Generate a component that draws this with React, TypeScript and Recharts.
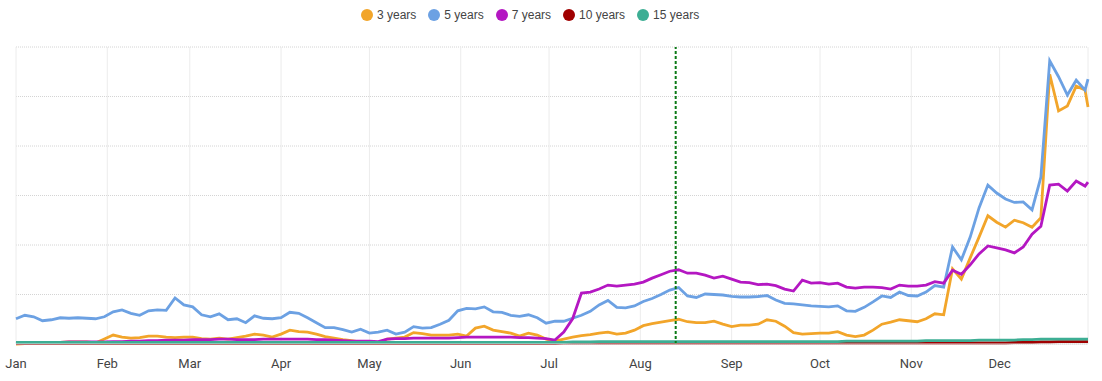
import { CartesianGrid, Legend, Line, LineChart, ReferenceLine, XAxis, YAxis } from 'recharts'

// day of year for each sample
const days = [
	0, 3, 6, 9, 12, 15, 18, 21, 24, 27,
	30, 33, 36, 39, 42, 45, 48, 51, 54, 57,
	60, 63, 66, 69, 72, 75, 78, 81, 84, 87,
	90, 93, 96, 99, 102, 105, 108, 111, 114, 117,
	120, 123, 126, 129, 132, 135, 138, 141, 144, 147,
	150, 153, 156, 159, 162, 165, 168, 171, 174, 177,
	180, 183, 186, 189, 192, 195, 198, 201, 204, 207,
	210, 213, 216, 219, 222, 225, 228, 231, 234, 237,
	240, 243, 246, 249, 252, 255, 258, 261, 264, 267,
	270, 273, 276, 279, 282, 285, 288, 291, 294, 297,
	300, 303, 306, 309, 312, 315, 318, 321, 324, 327,
	330, 333, 336, 339, 342, 345, 348, 351, 354, 357,
	360, 363, 364,
]

const monthTicks = [0, 31, 59, 90, 120, 151, 181, 212, 243, 273, 304, 334]
const monthNames = ['Jan', 'Feb', 'Mar', 'Apr', 'May', 'Jun', 'Jul', 'Aug', 'Sep', 'Oct', 'Nov', 'Dec']
const markerDay = 224

const years3 = [
	0.0, 0.01, 0.02, 0.02, 0.03, 0.03, 0.04, 0.04, 0.04, 0.02,
	0.1, 0.18, 0.14, 0.12, 0.13, 0.16, 0.16, 0.14, 0.13, 0.14,
	0.14, 0.11, 0.1, 0.12, 0.1, 0.13, 0.16, 0.2, 0.18, 0.14,
	0.2, 0.28, 0.25, 0.24, 0.2, 0.15, 0.12, 0.09, 0.07, 0.04,
	0.03, 0.02, 0.1, 0.12, 0.14, 0.23, 0.21, 0.18, 0.18, 0.18,
	0.2, 0.16, 0.32, 0.36, 0.28, 0.25, 0.22, 0.16, 0.22, 0.18,
	0.1, 0.06, 0.1, 0.14, 0.17, 0.19, 0.22, 0.24, 0.2, 0.22,
	0.28, 0.37, 0.41, 0.44, 0.47, 0.5, 0.45, 0.43, 0.43, 0.46,
	0.4, 0.35, 0.38, 0.38, 0.4, 0.49, 0.46, 0.36, 0.23, 0.2,
	0.21, 0.22, 0.22, 0.25, 0.18, 0.15, 0.18, 0.28, 0.4, 0.44,
	0.49, 0.47, 0.45, 0.51, 0.61, 0.59, 1.52, 1.31, 1.74, 2.16,
	2.59, 2.46, 2.36, 2.5, 2.45, 2.36, 2.55, 5.45, 4.71, 4.81,
	5.21, 5.13, 4.79,
]

const years5 = [
	0.51, 0.58, 0.55, 0.47, 0.49, 0.53, 0.52, 0.53, 0.52, 0.51,
	0.55, 0.65, 0.69, 0.62, 0.58, 0.67, 0.69, 0.68, 0.93, 0.79,
	0.75, 0.59, 0.55, 0.61, 0.49, 0.51, 0.43, 0.57, 0.52, 0.51,
	0.53, 0.64, 0.62, 0.53, 0.43, 0.33, 0.33, 0.29, 0.24, 0.3,
	0.22, 0.24, 0.28, 0.2, 0.24, 0.35, 0.32, 0.33, 0.4, 0.48,
	0.67, 0.72, 0.71, 0.75, 0.65, 0.64, 0.58, 0.56, 0.59, 0.53,
	0.42, 0.46, 0.46, 0.52, 0.58, 0.66, 0.79, 0.88, 0.74, 0.73,
	0.77, 0.86, 0.92, 1.0, 1.09, 1.14, 0.97, 0.94, 1.01, 1.0,
	0.99, 0.96, 0.95, 0.95, 0.96, 0.98, 0.89, 0.82, 0.81, 0.79,
	0.77, 0.76, 0.75, 0.77, 0.67, 0.66, 0.74, 0.85, 0.97, 0.94,
	1.05, 0.98, 0.97, 1.05, 1.18, 1.15, 1.96, 1.7, 2.16, 2.75,
	3.21, 3.05, 2.93, 2.86, 2.87, 2.71, 3.37, 5.72, 5.4, 5.03,
	5.33, 5.13, 5.35,
]

const years7 = [
	0.01, 0.02, 0.02, 0.03, 0.03, 0.03, 0.04, 0.04, 0.04, 0.04,
	0.04, 0.05, 0.05, 0.06, 0.06, 0.07, 0.07, 0.08, 0.08, 0.08,
	0.09, 0.09, 0.09, 0.1, 0.1, 0.09, 0.09, 0.09, 0.1, 0.1,
	0.1, 0.1, 0.1, 0.1, 0.09, 0.09, 0.08, 0.07, 0.06, 0.06,
	0.06, 0.05, 0.1, 0.11, 0.11, 0.12, 0.12, 0.12, 0.12, 0.12,
	0.13, 0.14, 0.14, 0.14, 0.14, 0.14, 0.14, 0.13, 0.13, 0.12,
	0.11, 0.08, 0.24, 0.51, 1.03, 1.05, 1.11, 1.19, 1.17, 1.19,
	1.21, 1.25, 1.33, 1.4, 1.47, 1.5, 1.43, 1.43, 1.39, 1.33,
	1.37, 1.31, 1.25, 1.24, 1.2, 1.21, 1.18, 1.11, 1.07, 1.29,
	1.23, 1.24, 1.21, 1.23, 1.15, 1.13, 1.15, 1.15, 1.14, 1.11,
	1.19, 1.17, 1.17, 1.19, 1.26, 1.23, 1.49, 1.41, 1.6, 1.82,
	1.98, 1.94, 1.9, 1.84, 1.96, 2.22, 2.38, 3.21, 3.23, 3.09,
	3.29, 3.19, 3.27,
]

const years10 = [
	0.01, 0.01, 0.01, 0.01, 0.01, 0.01, 0.01, 0.01, 0.01, 0.01,
	0.01, 0.01, 0.01, 0.01, 0.01, 0.01, 0.01, 0.01, 0.01, 0.01,
	0.01, 0.01, 0.01, 0.01, 0.01, 0.01, 0.01, 0.01, 0.01, 0.01,
	0.01, 0.01, 0.01, 0.01, 0.01, 0.01, 0.01, 0.01, 0.01, 0.01,
	0.01, 0.01, 0.01, 0.01, 0.01, 0.01, 0.01, 0.01, 0.01, 0.01,
	0.01, 0.01, 0.01, 0.01, 0.01, 0.01, 0.01, 0.01, 0.01, 0.01,
	0.01, 0.01, 0.02, 0.02, 0.02, 0.02, 0.02, 0.02, 0.02, 0.02,
	0.02, 0.02, 0.02, 0.02, 0.02, 0.02, 0.02, 0.02, 0.02, 0.02,
	0.02, 0.02, 0.02, 0.02, 0.02, 0.02, 0.02, 0.02, 0.02, 0.02,
	0.02, 0.02, 0.02, 0.02, 0.02, 0.02, 0.02, 0.02, 0.02, 0.02,
	0.02, 0.02, 0.02, 0.02, 0.02, 0.02, 0.02, 0.02, 0.02, 0.02,
	0.02, 0.02, 0.02, 0.03, 0.03, 0.03, 0.04, 0.04, 0.05, 0.05,
	0.05, 0.05, 0.05,
]

const years15 = [
	0.03, 0.03, 0.03, 0.03, 0.03, 0.03, 0.03, 0.03, 0.03, 0.03,
	0.03, 0.03, 0.03, 0.03, 0.03, 0.03, 0.03, 0.03, 0.03, 0.03,
	0.03, 0.03, 0.03, 0.03, 0.03, 0.03, 0.03, 0.03, 0.03, 0.03,
	0.03, 0.03, 0.03, 0.03, 0.03, 0.03, 0.03, 0.03, 0.03, 0.03,
	0.03, 0.03, 0.03, 0.03, 0.03, 0.03, 0.03, 0.03, 0.03, 0.03,
	0.03, 0.03, 0.03, 0.03, 0.03, 0.03, 0.03, 0.03, 0.03, 0.03,
	0.03, 0.03, 0.03, 0.04, 0.04, 0.04, 0.05, 0.05, 0.05, 0.05,
	0.05, 0.05, 0.05, 0.05, 0.05, 0.05, 0.05, 0.05, 0.05, 0.05,
	0.05, 0.05, 0.05, 0.05, 0.05, 0.05, 0.05, 0.05, 0.05, 0.05,
	0.05, 0.05, 0.05, 0.05, 0.06, 0.06, 0.06, 0.06, 0.06, 0.06,
	0.06, 0.06, 0.06, 0.07, 0.07, 0.07, 0.07, 0.07, 0.07, 0.08,
	0.08, 0.08, 0.08, 0.08, 0.09, 0.09, 0.1, 0.1, 0.1, 0.1,
	0.1, 0.1, 0.1,
]

const series = [
	{ key: 'y3', name: '3 years', color: '#F2A52A', values: years3 },
	{ key: 'y5', name: '5 years', color: '#6CA1E3', values: years5 },
	{ key: 'y7', name: '7 years', color: '#B417C2', values: years7 },
	{ key: 'y10', name: '10 years', color: '#A00000', values: years10 },
	{ key: 'y15', name: '15 years', color: '#3DAE94', values: years15 },
]

const data = days.map((day, i) => {
	const row: Record<string, number> = { day }
	series.forEach((s) => {
		row[s.key] = s.values[i]
	})
	return row
})

const renderLegend = () => (
	<div
		style={{
			display: 'flex',
			alignItems: 'center',
			height: 30,
			fontFamily: '"Liberation Sans", Arial, sans-serif',
			fontSize: 12,
			color: '#444',
		}}
	>
		{series.map((s) => (
			<span key={s.key} style={{ display: 'flex', alignItems: 'center', marginRight: 12 }}>
				<span
					style={{
						display: 'inline-block',
						width: 12,
						height: 12,
						borderRadius: 6,
						background: s.color,
						marginRight: 4,
					}}
				/>
				{s.name}
			</span>
		))}
	</div>
)

const App = () => {
	return (
		<div style={{ position: 'absolute', left: 0, top: 0 }}>
			<LineChart
				width={1102}
				height={381}
				data={data}
				margin={{ top: 17, right: 14, left: 16, bottom: 7 }}
			>
				<CartesianGrid vertical={false} stroke='#d4d4d4' strokeDasharray='1 1' />
				<CartesianGrid horizontal={false} stroke='#ececec' />
				<Legend
					verticalAlign='top'
					content={renderLegend}
					wrapperStyle={{ top: 0, left: 361, width: 'auto' }}
				/>
				<XAxis
					dataKey='day'
					type='number'
					domain={[0, 364]}
					ticks={monthTicks}
					tickFormatter={(d) => monthNames[monthTicks.indexOf(d)]}
					axisLine={{ stroke: '#dddddd' }}
					tickLine={false}
					tick={{ fill: '#444', fontSize: 13, fontFamily: 'Roboto' }}
					tickMargin={9}
					interval={0}
				/>
				<YAxis hide domain={[0, 6]} ticks={[0, 1, 2, 3, 4, 5, 6]} />
				{series.map((s) => (
					<Line
						key={s.key}
						dataKey={s.key}
						name={s.name}
						stroke={s.color}
						strokeWidth={2.8}
						dot={false}
						type='linear'
						isAnimationActive={false}
					/>
				))}
				<ReferenceLine x={markerDay} stroke='#0B7A16' strokeWidth={2} strokeDasharray='3 2' />
			</LineChart>
		</div>
	)
}

export default App
